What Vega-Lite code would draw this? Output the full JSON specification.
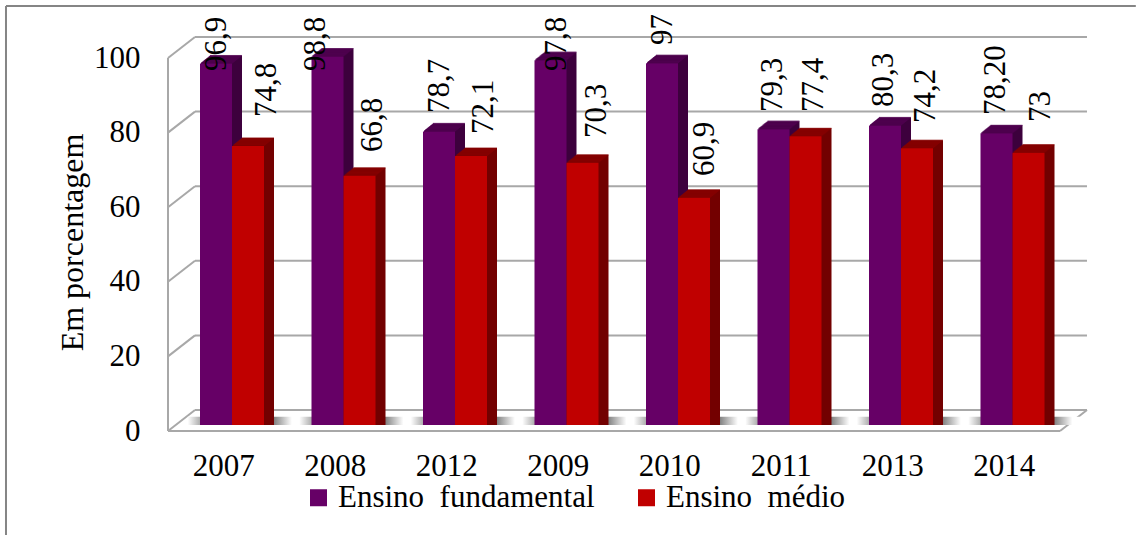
{
"$schema":"https://vega.github.io/schema/vega-lite/v6.json",
"width":892,"height":373,
"autosize":{"type":"none"},
"padding":{"left":168,"top":52,"right":76,"bottom":110},
"background":"white",
"config":{"view":{"stroke":null},"font":"Liberation Serif","text":{"font":"Liberation Serif"}},
"datasets":{
"barras":[
{"ano":"2007","serie":"Ensino fundamental","valor":96.9,"rotulo":"96,9"},
{"ano":"2007","serie":"Ensino médio","valor":74.8,"rotulo":"74,8"},
{"ano":"2008","serie":"Ensino fundamental","valor":98.8,"rotulo":"98,8"},
{"ano":"2008","serie":"Ensino médio","valor":66.8,"rotulo":"66,8"},
{"ano":"2012","serie":"Ensino fundamental","valor":78.7,"rotulo":"78,7"},
{"ano":"2012","serie":"Ensino médio","valor":72.1,"rotulo":"72,1"},
{"ano":"2009","serie":"Ensino fundamental","valor":97.8,"rotulo":"97,8"},
{"ano":"2009","serie":"Ensino médio","valor":70.3,"rotulo":"70,3"},
{"ano":"2010","serie":"Ensino fundamental","valor":97,"rotulo":"97"},
{"ano":"2010","serie":"Ensino médio","valor":60.9,"rotulo":"60,9"},
{"ano":"2011","serie":"Ensino fundamental","valor":79.3,"rotulo":"79,3"},
{"ano":"2011","serie":"Ensino médio","valor":77.4,"rotulo":"77,4"},
{"ano":"2013","serie":"Ensino fundamental","valor":80.3,"rotulo":"80,3"},
{"ano":"2013","serie":"Ensino médio","valor":74.2,"rotulo":"74,2"},
{"ano":"2014","serie":"Ensino fundamental","valor":78.2,"rotulo":"78,20"},
{"ano":"2014","serie":"Ensino médio","valor":73,"rotulo":"73"}
],
"paredes":[
{"tipo":"moldura","a":-1.453,"b":8.68,"c":112.33,"d":112.33},
{"tipo":"moldura","a":-1.453,"b":-1.453,"c":112.33,"d":-29.5},
{"tipo":"grade","a":0.242,"b":8.242,"c":4.02,"d":4.02},
{"tipo":"grade","a":0.242,"b":8.242,"c":24.02,"d":24.02},
{"tipo":"grade","a":0.242,"b":8.242,"c":44.02,"d":44.02},
{"tipo":"grade","a":0.242,"b":8.242,"c":64.02,"d":64.02},
{"tipo":"grade","a":0.242,"b":8.242,"c":84.02,"d":84.02},
{"tipo":"grade","a":0.242,"b":8.242,"c":104.02,"d":104.02},
{"tipo":"grade","a":0,"b":0.242,"c":-1.61,"d":4.02},
{"tipo":"grade","a":0,"b":0.242,"c":18.39,"d":24.02},
{"tipo":"grade","a":0,"b":0.242,"c":38.39,"d":44.02},
{"tipo":"grade","a":0,"b":0.242,"c":58.39,"d":64.02},
{"tipo":"grade","a":0,"b":0.242,"c":78.39,"d":84.02},
{"tipo":"grade","a":0,"b":0.242,"c":98.39,"d":104.02},
{"tipo":"grade","a":0,"b":0,"c":-1.61,"d":98.39},
{"tipo":"grade","a":0,"b":8,"c":-1.61,"d":-1.61},
{"tipo":"grade","a":8,"b":8.242,"c":-1.61,"d":4.02}
]
},
"resolve":{"scale":{"x":"independent"}},
"layer":[
{"data":{"name":"paredes"},
 "encoding":{
  "x":{"field":"a","type":"quantitative","scale":{"domain":[0,8],"nice":false,"zero":false},"axis":null},
  "x2":{"field":"b"},
  "y":{"field":"c","type":"quantitative","title":"Em porcentagem","scale":{"domain":[0,100],"nice":false},
   "axis":{"values":[0,20,40,60,80,100],"domain":false,"ticks":false,"grid":false,"labelPadding":28,"labelOffset":6,"labelFontSize":31,"labelColor":"#000","labelFont":"Liberation Serif",
    "title":"Em porcentagem","titleFont":"Liberation Serif","titleFontSize":32,"titleFontWeight":"normal","titleColor":"#000","titleX":-79,"titleY":190}},
  "y2":{"field":"d"}
 },
 "layer":[
  {"transform":[{"filter":"datum.tipo=='moldura'"}],"mark":{"type":"rule","stroke":"#858585","strokeWidth":2}},
  {"transform":[{"filter":"datum.tipo=='grade'"}],"mark":{"type":"rule","stroke":"#a8a8a8","strokeWidth":2}}
 ]
},
{"data":{"name":"barras"},
 "encoding":{
  "x":{"field":"ano","type":"nominal","sort":null,"title":null,"scale":{"paddingInner":0.426,"paddingOuter":0.213},
   "axis":{"domain":false,"ticks":false,"labelAngle":0,"labelPadding":26,"labelFontSize":31,"labelColor":"#000","labelFont":"Liberation Serif"}},
  "y":{"field":"valor","type":"quantitative","stack":null,"title":"Em porcentagem","scale":{"domain":[0,100],"nice":false}}
 },
 "layer":[
  {"transform":[{"filter":"datum.serie=='Ensino fundamental'"}],
   "mark":{"type":"bar","width":112,"xOffset":20,"fill":{"gradient":"linear","x1":0,"x2":1,"y1":0,"y2":0,"stops":[{"offset":0,"color":"#ffffff"},{"offset":0.107,"color":"#b0b0b0"},{"offset":0.767,"color":"#808080"},{"offset":0.93,"color":"#ffffff"},{"offset":1,"color":"#ffffff"}]}},
   "encoding":{"y":{"datum":2.2,"type":"quantitative"},"y2":{"datum":0}}},

  {"transform":[{"filter":"datum.serie=='Ensino fundamental'"}],
   "layer":[
    {"mark":{"type":"bar","width":32,"color":"#3d003d","xOffset":2.25,"yOffset":-8,"y2Offset":-8}},
    {"mark":{"type":"tick","size":32,"thickness":1.2,"color":"#520052","xOffset":2.25,"yOffset":-8}},
    {"mark":{"type":"bar","width":32,"color":"#3d003d","xOffset":1.25,"yOffset":-7.2,"y2Offset":-7.2}},
    {"mark":{"type":"tick","size":32,"thickness":1.2,"color":"#520052","xOffset":1.25,"yOffset":-7.2}},
    {"mark":{"type":"bar","width":32,"color":"#3d003d","xOffset":0.25,"yOffset":-6.4,"y2Offset":-6.4}},
    {"mark":{"type":"tick","size":32,"thickness":1.2,"color":"#520052","xOffset":0.25,"yOffset":-6.4}},
    {"mark":{"type":"bar","width":32,"color":"#3d003d","xOffset":-0.75,"yOffset":-5.6,"y2Offset":-5.6}},
    {"mark":{"type":"tick","size":32,"thickness":1.2,"color":"#520052","xOffset":-0.75,"yOffset":-5.6}},
    {"mark":{"type":"bar","width":32,"color":"#3d003d","xOffset":-1.75,"yOffset":-4.8,"y2Offset":-4.8}},
    {"mark":{"type":"tick","size":32,"thickness":1.2,"color":"#520052","xOffset":-1.75,"yOffset":-4.8}},
    {"mark":{"type":"bar","width":32,"color":"#3d003d","xOffset":-2.75,"yOffset":-4,"y2Offset":-4}},
    {"mark":{"type":"tick","size":32,"thickness":1.2,"color":"#520052","xOffset":-2.75,"yOffset":-4}},
    {"mark":{"type":"bar","width":32,"color":"#3d003d","xOffset":-3.75,"yOffset":-3.2,"y2Offset":-3.2}},
    {"mark":{"type":"tick","size":32,"thickness":1.2,"color":"#520052","xOffset":-3.75,"yOffset":-3.2}},
    {"mark":{"type":"bar","width":32,"color":"#3d003d","xOffset":-4.75,"yOffset":-2.4,"y2Offset":-2.4}},
    {"mark":{"type":"tick","size":32,"thickness":1.2,"color":"#520052","xOffset":-4.75,"yOffset":-2.4}},
    {"mark":{"type":"bar","width":32,"color":"#3d003d","xOffset":-5.75,"yOffset":-1.6,"y2Offset":-1.6}},
    {"mark":{"type":"tick","size":32,"thickness":1.2,"color":"#520052","xOffset":-5.75,"yOffset":-1.6}},
    {"mark":{"type":"bar","width":32,"color":"#3d003d","xOffset":-6.75,"yOffset":-0.8,"y2Offset":-0.8}},
    {"mark":{"type":"tick","size":32,"thickness":1.2,"color":"#520052","xOffset":-6.75,"yOffset":-0.8}}
   ]},
  {"transform":[{"filter":"datum.serie=='Ensino fundamental'"}],
   "mark":{"type":"bar","width":32,"xOffset":-7.75},
   "encoding":{"color":{"field":"serie","type":"nominal","scale":{"domain":["Ensino fundamental","Ensino médio"],"range":["#660066","#c00000"]},
    "legend":{"orient":"none","legendX":135,"legendY":430,"direction":"horizontal","columns":2,"title":null,"padding":0,"symbolType":"square","symbolSize":289,"symbolStrokeWidth":0,"labelFont":"Liberation Serif","labelFontSize":31,"labelColor":"#000","labelOffset":4,"columnPadding":36,"labelLimit":400,"labelExpr":"replace(datum.label,' ','\u00a0\u00a0')"}}}},

  {"transform":[{"filter":"datum.serie=='Ensino médio'"}],
   "layer":[
    {"mark":{"type":"bar","width":32,"color":"#730000","xOffset":34.25,"yOffset":-8,"y2Offset":-8}},
    {"mark":{"type":"tick","size":32,"thickness":1.2,"color":"#8a0000","xOffset":34.25,"yOffset":-8}},
    {"mark":{"type":"bar","width":32,"color":"#730000","xOffset":33.25,"yOffset":-7.2,"y2Offset":-7.2}},
    {"mark":{"type":"tick","size":32,"thickness":1.2,"color":"#8a0000","xOffset":33.25,"yOffset":-7.2}},
    {"mark":{"type":"bar","width":32,"color":"#730000","xOffset":32.25,"yOffset":-6.4,"y2Offset":-6.4}},
    {"mark":{"type":"tick","size":32,"thickness":1.2,"color":"#8a0000","xOffset":32.25,"yOffset":-6.4}},
    {"mark":{"type":"bar","width":32,"color":"#730000","xOffset":31.25,"yOffset":-5.6,"y2Offset":-5.6}},
    {"mark":{"type":"tick","size":32,"thickness":1.2,"color":"#8a0000","xOffset":31.25,"yOffset":-5.6}},
    {"mark":{"type":"bar","width":32,"color":"#730000","xOffset":30.25,"yOffset":-4.8,"y2Offset":-4.8}},
    {"mark":{"type":"tick","size":32,"thickness":1.2,"color":"#8a0000","xOffset":30.25,"yOffset":-4.8}},
    {"mark":{"type":"bar","width":32,"color":"#730000","xOffset":29.25,"yOffset":-4,"y2Offset":-4}},
    {"mark":{"type":"tick","size":32,"thickness":1.2,"color":"#8a0000","xOffset":29.25,"yOffset":-4}},
    {"mark":{"type":"bar","width":32,"color":"#730000","xOffset":28.25,"yOffset":-3.2,"y2Offset":-3.2}},
    {"mark":{"type":"tick","size":32,"thickness":1.2,"color":"#8a0000","xOffset":28.25,"yOffset":-3.2}},
    {"mark":{"type":"bar","width":32,"color":"#730000","xOffset":27.25,"yOffset":-2.4,"y2Offset":-2.4}},
    {"mark":{"type":"tick","size":32,"thickness":1.2,"color":"#8a0000","xOffset":27.25,"yOffset":-2.4}},
    {"mark":{"type":"bar","width":32,"color":"#730000","xOffset":26.25,"yOffset":-1.6,"y2Offset":-1.6}},
    {"mark":{"type":"tick","size":32,"thickness":1.2,"color":"#8a0000","xOffset":26.25,"yOffset":-1.6}},
    {"mark":{"type":"bar","width":32,"color":"#730000","xOffset":25.25,"yOffset":-0.8,"y2Offset":-0.8}},
    {"mark":{"type":"tick","size":32,"thickness":1.2,"color":"#8a0000","xOffset":25.25,"yOffset":-0.8}}
   ]},
  {"transform":[{"filter":"datum.serie=='Ensino médio'"}],
   "mark":{"type":"bar","width":32,"xOffset":24.25},
   "encoding":{"color":{"field":"serie","type":"nominal","scale":{"domain":["Ensino fundamental","Ensino médio"],"range":["#660066","#c00000"]}}}},

  {"transform":[{"filter":"datum.rotulo=='96,9'"}],"mark":{"type":"text","angle":270,"align":"left","baseline":"middle","fontSize":31,"font":"Liberation Serif","color":"#000","xOffset":-6.75,"yOffset":7.4},"encoding":{"text":{"field":"rotulo"}}},
  {"transform":[{"filter":"datum.rotulo=='98,8'"}],"mark":{"type":"text","angle":270,"align":"left","baseline":"middle","fontSize":31,"font":"Liberation Serif","color":"#000","xOffset":-19.25,"yOffset":14.5},"encoding":{"text":{"field":"rotulo"}}},
  {"transform":[{"filter":"datum.rotulo=='78,7'"}],"mark":{"type":"text","angle":270,"align":"left","baseline":"middle","fontSize":31,"font":"Liberation Serif","color":"#000","xOffset":-6.75,"yOffset":-18.4},"encoding":{"text":{"field":"rotulo"}}},
  {"transform":[{"filter":"datum.rotulo=='97,8'"}],"mark":{"type":"text","angle":270,"align":"left","baseline":"middle","fontSize":31,"font":"Liberation Serif","color":"#000","xOffset":-1.25,"yOffset":10.8},"encoding":{"text":{"field":"rotulo"}}},
  {"transform":[{"filter":"datum.rotulo=='97'"}],"mark":{"type":"text","angle":270,"align":"left","baseline":"middle","fontSize":31,"font":"Liberation Serif","color":"#000","xOffset":-6.75,"yOffset":-18.2},"encoding":{"text":{"field":"rotulo"}}},
  {"transform":[{"filter":"datum.rotulo=='79,3'"}],"mark":{"type":"text","angle":270,"align":"left","baseline":"middle","fontSize":31,"font":"Liberation Serif","color":"#000","xOffset":-8.25,"yOffset":-17.2},"encoding":{"text":{"field":"rotulo"}}},
  {"transform":[{"filter":"datum.rotulo=='80,3'"}],"mark":{"type":"text","angle":270,"align":"left","baseline":"middle","fontSize":31,"font":"Liberation Serif","color":"#000","xOffset":-8.75,"yOffset":-18.5},"encoding":{"text":{"field":"rotulo"}}},
  {"transform":[{"filter":"datum.rotulo=='78,20'"}],"mark":{"type":"text","angle":270,"align":"left","baseline":"middle","fontSize":31,"font":"Liberation Serif","color":"#000","xOffset":-8.25,"yOffset":-18.3},"encoding":{"text":{"field":"rotulo"}}},
  {"transform":[{"filter":"datum.rotulo=='74,8'"}],"mark":{"type":"text","angle":270,"align":"left","baseline":"middle","fontSize":31,"font":"Liberation Serif","color":"#000","xOffset":43.25,"yOffset":-29},"encoding":{"text":{"field":"rotulo"}}},
  {"transform":[{"filter":"datum.rotulo=='66,8'"}],"mark":{"type":"text","angle":270,"align":"left","baseline":"middle","fontSize":31,"font":"Liberation Serif","color":"#000","xOffset":37.75,"yOffset":-23.8},"encoding":{"text":{"field":"rotulo"}}},
  {"transform":[{"filter":"datum.rotulo=='72,1'"}],"mark":{"type":"text","angle":270,"align":"left","baseline":"middle","fontSize":31,"font":"Liberation Serif","color":"#000","xOffset":37.25,"yOffset":-22},"encoding":{"text":{"field":"rotulo"}}},
  {"transform":[{"filter":"datum.rotulo=='70,3'"}],"mark":{"type":"text","angle":270,"align":"left","baseline":"middle","fontSize":31,"font":"Liberation Serif","color":"#000","xOffset":38.75,"yOffset":-24.8},"encoding":{"text":{"field":"rotulo"}}},
  {"transform":[{"filter":"datum.rotulo=='60,9'"}],"mark":{"type":"text","angle":270,"align":"left","baseline":"middle","fontSize":31,"font":"Liberation Serif","color":"#000","xOffset":35.25,"yOffset":-21.8},"encoding":{"text":{"field":"rotulo"}}},
  {"transform":[{"filter":"datum.rotulo=='77,4'"}],"mark":{"type":"text","angle":270,"align":"left","baseline":"middle","fontSize":31,"font":"Liberation Serif","color":"#000","xOffset":32.75,"yOffset":-24.3},"encoding":{"text":{"field":"rotulo"}}},
  {"transform":[{"filter":"datum.rotulo=='74,2'"}],"mark":{"type":"text","angle":270,"align":"left","baseline":"middle","fontSize":31,"font":"Liberation Serif","color":"#000","xOffset":33.25,"yOffset":-25.2},"encoding":{"text":{"field":"rotulo"}}},
  {"transform":[{"filter":"datum.rotulo=='73'"}],"mark":{"type":"text","angle":270,"align":"left","baseline":"middle","fontSize":31,"font":"Liberation Serif","color":"#000","xOffset":36.75,"yOffset":-30.7},"encoding":{"text":{"field":"rotulo"}}}
 ]
}
]
}
